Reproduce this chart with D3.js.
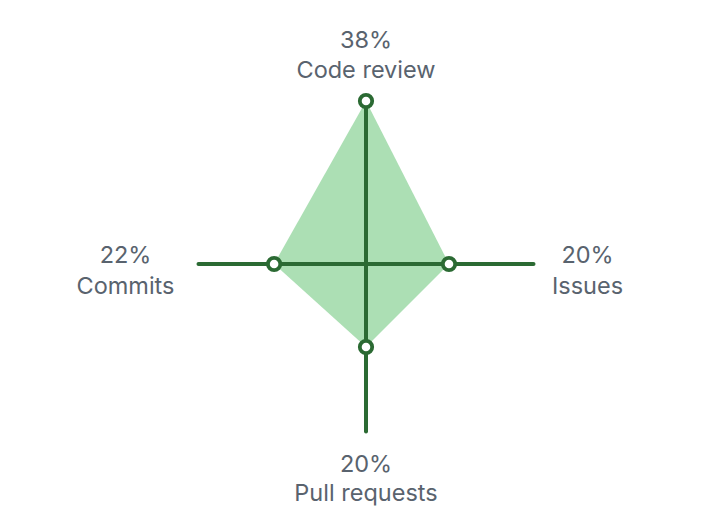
<!DOCTYPE html>
<html>
<head>
<meta charset="utf-8">
<script src="https://cdn.jsdelivr.net/npm/d3@7"></script>
<style>
  html, body { margin: 0; padding: 0; background: #fff; }
  svg { display: block; }
  text { font-family: Inter, "Noto Sans", sans-serif; fill: #59636e; font-size: 23.5px; }
</style>
</head>
<body>
<svg id="chart" width="710" height="532"></svg>
<script>
// Data
const categories = ["Code review", "Issues", "Pull requests", "Commits"];
const percentages = [38, 20, 20, 22];
const percentLabels = ["38%", "20%", "20%", "22%"];

// Layout
const cx = 366, cy = 264;
const axisLen = 167.5;
const angles = [-Math.PI / 2, 0, Math.PI / 2, Math.PI]; // top, right, bottom, left

const rScale = d3.scaleLinear().domain([20, 38]).range([83, 163]);

const svg = d3.select("#chart");
const g = svg.append("g");

const pts = percentages.map((v, i) => {
  const rr = rScale(v);
  return [cx + rr * Math.cos(angles[i]), cy + rr * Math.sin(angles[i])];
});

// Filled area
g.append("path")
  .attr("d", d3.line()(pts) + "Z")
  .attr("fill", "#acdfb4")
  .attr("stroke", "none");

// Axes
const strokeColor = "#2b6a33";
function axisEnd(i) {
  const L = i === 0 ? rScale(percentages[i]) : Math.max(axisLen, rScale(percentages[i]));
  return [cx + L * Math.cos(angles[i]), cy + L * Math.sin(angles[i])];
}
const pTop = axisEnd(0), pBottom = axisEnd(2), pLeft = axisEnd(3), pRight = axisEnd(1);
g.append("line").attr("x1", pTop[0]).attr("y1", pTop[1]).attr("x2", pBottom[0]).attr("y2", pBottom[1])
  .attr("stroke", strokeColor).attr("stroke-width", 4).attr("stroke-linecap", "round");
g.append("line").attr("x1", pLeft[0]).attr("y1", pLeft[1]).attr("x2", pRight[0]).attr("y2", pRight[1])
  .attr("stroke", strokeColor).attr("stroke-width", 4).attr("stroke-linecap", "round");

// Points
g.selectAll("circle").data(pts).join("circle")
  .attr("cx", d => d[0]).attr("cy", d => d[1])
  .attr("r", 6.2)
  .attr("fill", "#fff")
  .attr("stroke", strokeColor)
  .attr("stroke-width", 3.8);

// Labels (positions relative to center)
const labelPos = [
  { x: cx, y1: 48, y2: 78 },
  { x: cx + 221.5, y1: 262.5, y2: 293.5 },
  { x: cx, y1: 471.5, y2: 501 },
  { x: cx - 240.5, y1: 262.5, y2: 293.5 }
];
categories.forEach((c, i) => {
  const p = labelPos[i];
  g.append("text").attr("x", p.x).attr("y", p.y1).attr("text-anchor", "middle").text(percentLabels[i]);
  g.append("text").attr("x", p.x).attr("y", p.y2).attr("text-anchor", "middle").text(c);
});
</script>
</body>
</html>
